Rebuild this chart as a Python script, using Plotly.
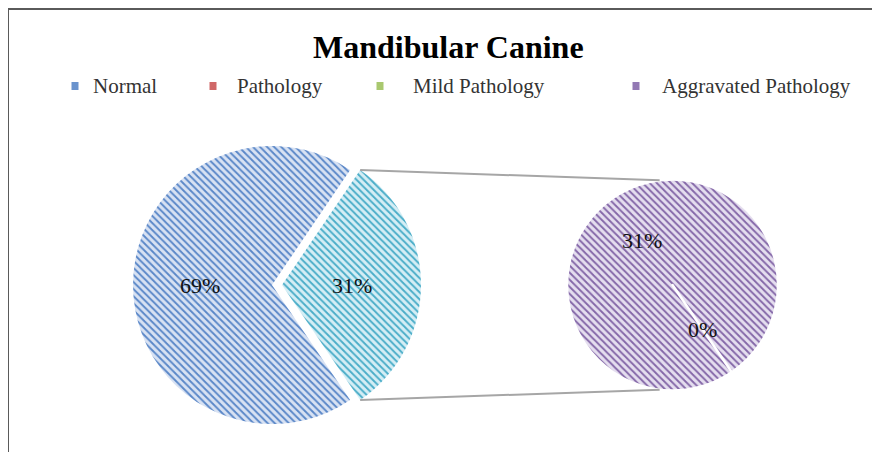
import math
import plotly.graph_objects as go

# ---------------- data ----------------
categories = ["Normal", "Pathology", "Mild Pathology", "Aggravated Pathology"]
values = [69, None, 0, 31]          # percent of all cases
secondary_categories = ["Aggravated Pathology", "Mild Pathology"]  # split into the second pie
other_label = "Other"

legend_colors = ["#6a93cd", "#d06868", "#a9c86f", "#9379b4"]
pattern_fg = {"Normal": "#5a87c8", "Other": "#4aadc8", "Aggravated Pathology": "#8467a8", "Mild Pathology": "#9bbb59"}
pattern_bg = {"Normal": "#d8e2f3", "Other": "#d5eef5", "Aggravated Pathology": "#e5deef", "Mild Pathology": "#e3eed3"}

# ---------------- layout geometry (page pixels) ----------------
W, H = 880, 452
OFF = 8   # page body margin in the browser
FONT = "Times New Roman, Liberation Serif, serif"
main_c = (272, 285)
main_r = 139
pull_px = 10
sec_c = (672.5, 285)
sec_r = 105.5

val = dict(zip(categories, values))
sec_vals = [val[c] for c in secondary_categories]
other_val = sum(v for v in sec_vals if v is not None)
main_labels = [other_label, "Normal"]
main_vals = [other_val, val["Normal"]]
total = sum(main_vals)
pull = pull_px / main_r
# other slice centered at 3 o'clock; angles clockwise from 12 o'clock
other_span = 360 * other_val / total
main_rot = 90 - other_span / 2


def px(x, y):
    """page pixel -> paper coords"""
    return (x - OFF) / W, 1 - (y - OFF) / H


def domain(c, r, p=0.0):
    half = r * (1 + p)
    x0, y1 = px(c[0] - half, c[1] - half)
    x1, y0 = px(c[0] + half, c[1] + half)
    return dict(x=[x0, x1], y=[y0, y1])


def polar(c, r, ang):
    a = math.radians(ang)
    return c[0] + r * math.sin(a), c[1] - r * math.cos(a)


def pattern(labels):
    return dict(shape="\\", fgcolor=[pattern_fg[l] for l in labels],
                bgcolor=[pattern_bg[l] for l in labels],
                size=5, solidity=0.38, fillmode="replace")


fig = go.Figure()

fig.add_trace(go.Pie(
    labels=main_labels, values=main_vals, sort=False, direction="clockwise",
    rotation=main_rot, pull=[pull, 0], domain=domain(main_c, main_r, pull),
    textinfo="none", showlegend=False, hoverinfo="label+percent",
    marker=dict(colors=[pattern_bg[l] for l in main_labels], line=dict(width=0),
                pattern=pattern(main_labels)),
))

sec_rot = main_rot + other_span
fig.add_trace(go.Pie(
    labels=secondary_categories, values=sec_vals, sort=False, direction="clockwise",
    rotation=sec_rot - 360 if sec_rot > 180 else sec_rot, domain=domain(sec_c, sec_r),
    textinfo="none", showlegend=False, hoverinfo="label+value",
    marker=dict(colors=[pattern_bg[l] for l in secondary_categories],
                line=dict(width=2.5, color="white"),
                pattern=pattern(secondary_categories)),
))

annotations = []
shapes = []

# percentage labels
label_pts = []
other_vertex = polar(main_c, pull_px, 90)
normal_mid = main_rot + other_span + 360 * val["Normal"] / total / 2
label_pts.append((polar(main_c, main_r * 0.52, normal_mid), f"{val['Normal']}%"))
label_pts.append((polar(other_vertex, main_r * 0.5, 90), f"{other_val}%"))
ang = sec_rot
for cat, v in zip(secondary_categories, sec_vals):
    span = 360 * v / other_val
    mid = ang + span / 2 if span < 360 else ang + 180
    label_pts.append((polar(sec_c, sec_r * 0.51, mid), f"{round(100 * v / total)}%"))
    ang += span
for (lx, ly), t in label_pts:
    x, y = px(lx, ly)
    annotations.append(dict(x=x, y=y, text=t, xref="paper", yref="paper", showarrow=False,
                            xanchor="center", yanchor="middle",
                            font=dict(family=FONT, size=22, color="#111")))

# connector lines between the exploded slice and the second pie
for sgn in (-1, 1):
    x0, y0 = px(*polar(other_vertex, main_r, 90 + sgn * other_span / 2))
    x1, y1 = px(*polar(sec_c, sec_r, 90 + sgn * 97))
    shapes.append(dict(type="line", xref="paper", yref="paper", x0=x0, y0=y0, x1=x1, y1=y1,
                       line=dict(color="#a6a6a6", width=2)))

# outer frame (left and top edges visible)
fx0, fy1 = px(8, 9)
shapes.append(dict(type="rect", xref="paper", yref="paper", x0=fx0, y0=-0.02, x1=1.05, y1=fy1,
                   line=dict(color="#5a5a5a", width=2), fillcolor="rgba(0,0,0,0)", layer="below"))

# title
tx, ty = px(449, 47)
annotations.append(dict(x=tx, y=ty, xref="paper", yref="paper", showarrow=False,
                        text="<b>Mandibular Canine</b>", xanchor="center", yanchor="middle",
                        font=dict(family=FONT, size=32, color="black")))

# custom legend
legend_sq_x = [75, 213, 380, 636]
legend_txt_x = [91, 235, 411, 660]
legend_y = 86
for cat, col, sx, lx in zip(categories, legend_colors, legend_sq_x, legend_txt_x):
    x0, y1 = px(sx - 3.5, legend_y - 4)
    x1, y0 = px(sx + 3.5, legend_y + 4)
    shapes.append(dict(type="rect", xref="paper", yref="paper", x0=x0, x1=x1, y0=y0, y1=y1,
                       fillcolor=col, line=dict(width=0)))
    ax, ay = px(lx, legend_y)
    annotations.append(dict(x=ax, y=ay, xref="paper", yref="paper", showarrow=False,
                            text=cat, xanchor="left", yanchor="middle",
                            font=dict(family=FONT, size=21, color="#333")))

fig.update_layout(
    width=W, height=H, margin=dict(l=0, r=0, t=0, b=0),
    paper_bgcolor="white", plot_bgcolor="white",
    annotations=annotations, shapes=shapes, showlegend=False,
)

fig.write_html("out.html")
